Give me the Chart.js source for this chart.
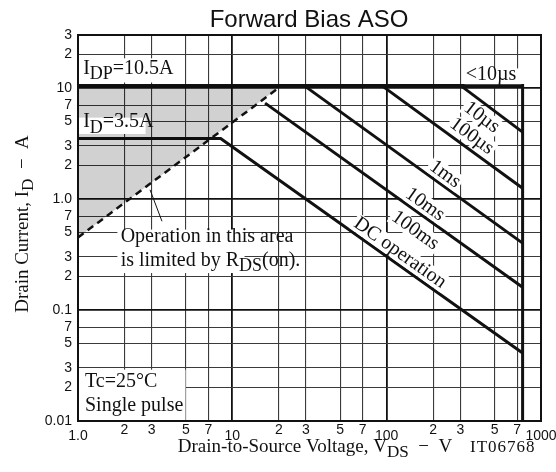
<!DOCTYPE html>
<html>
<head>
<meta charset="utf-8">
<script src="https://cdn.jsdelivr.net/npm/chart.js@4"></script>
<style>
  html, body { margin: 0; padding: 0; background: #fff; }
  #wrap { width: 556px; height: 472px; }
</style>
</head>
<body>
<div id="wrap"><canvas id="aso"></canvas></div>
<script>
// tick values and labels
const xTicks = [1, 2, 3, 5, 7, 10, 20, 30, 50, 70, 100, 200, 300, 500, 700, 1000];
const xTickLabels = ['1.0', '2', '3', '5', '7', '10', '2', '3', '5', '7', '100', '2', '3', '5', '7', '1000'];
const yTicks = [0.01, 0.02, 0.03, 0.05, 0.07, 0.1, 0.2, 0.3, 0.5, 0.7, 1, 2, 3, 5, 7, 10, 20, 30];
const yTickLabels = ['0.01', '2', '3', '5', '7', '0.1', '2', '3', '5', '7', '1.0', '2', '3', '5', '7', '10', '2', '3'];

// curves: VDS (V) / ID (A)
const limitV = [1, 760, 760];
const limitI = [10.5, 10.5, 0.01];
const dcV = [1, 8.4, 760];
const dcI = [3.5, 3.5, 0.041];
const rdsV = [1, 20.9];
const rdsI = [0.45, 10.5];
const t10usV = [302, 760];
const t10usI = [10.5, 4.0];
const t100usV = [93, 760];
const t100usI = [10.5, 1.25];
const t1msV = [29.2, 760];
const t1msI = [10.5, 0.40];
const t10msV = [16.3, 760];
const t10msI = [7.3, 0.16];
const leaderV = [2.93, 3.5];
const leaderI = [1.21, 0.63];

const SERIF = '"Liberation Serif", "Times New Roman", serif';
const SANS = '"Liberation Sans", Arial, sans-serif';
const decades = [0.01, 0.1, 1, 10, 100, 1000];

const pts = (vs, is) => vs.map((v, i) => ({ x: v, y: is[i] }));

function curve(vs, is, width, extra) {
    return Object.assign({
        data: pts(vs, is),
        borderColor: '#111',
        borderWidth: width,
        pointRadius: 0,
        fill: false,
        tension: 0
    }, extra || {});
}

// labels along the pulse lines (at = VDS of label centre, dy = px above line)
const lineLabels = [
    { text: '10µs', vs: t10usV, is: t10usI, at: 413, dy: -16 },
    { text: '100µs', vs: t100usV, is: t100usI, at: 356, dy: 15 },
    { text: '1ms', vs: t1msV, is: t1msI, at: 239, dy: 13 },
    { text: '10ms', vs: t10msV, is: t10msI, at: 177, dy: 13 },
    { text: '100ms', vs: t10msV, is: t10msI, at: 153, dy: -20 },
    { text: 'DC operation', vs: dcV.slice(1), is: dcI.slice(1), at: 122, dy: 13 }
];

function drawRich(ctx, parts, x, y, size, align) {
    let w = 0;
    const sub = size * 0.9;
    parts.forEach(p => {
        ctx.font = (p[1] ? sub : size) + 'px ' + SERIF;
        w += ctx.measureText(p[0]).width;
    });
    let cx = align === 'center' ? x - w / 2 : x;
    ctx.textAlign = 'left';
    ctx.textBaseline = 'alphabetic';
    parts.forEach(p => {
        ctx.font = (p[1] ? sub : size) + 'px ' + SERIF;
        ctx.fillText(p[0], cx, p[1] ? y + size * 0.28 : y);
        cx += ctx.measureText(p[0]).width;
    });
    return w;
}

const decor = {
    id: 'decor',
    afterDatasetsDraw(chart) {
        const { ctx, chartArea: a, scales: { x, y } } = chart;
        const px = v => x.getPixelForValue(v);
        const py = v => y.getPixelForValue(v);
        ctx.save();
        ctx.fillStyle = '#fff';
        // white boxes behind annotations
        ctx.fillRect(a.left + 1, py(18.5), px(3.2) - a.left, py(11.2) - py(18.5));
        ctx.fillRect(a.left + 1, py(5.4), px(2.7) - a.left, py(3.85) - py(5.4));
        ctx.fillRect(px(320), py(15), px(745) - px(320), py(10.8) - py(15));
        ctx.fillRect(px(1.8), py(0.53), px(12) - px(1.8), py(0.215) - py(0.53));
        ctx.fillRect(a.left + 1, py(0.029), px(4.9) - a.left, a.bottom - py(0.029) - 1);

        ctx.fillStyle = '#111';
        drawRich(ctx, [['I'], ['DP', 1], ['=10.5A']], px(1.08), py(13.4), 20);
        drawRich(ctx, [['I'], ['D', 1], ['=3.5A']], px(1.08), py(4.43), 20);
        drawRich(ctx, [['<10µs']], px(325), py(11.9), 20);
        drawRich(ctx, [['Operation in this area']], px(1.89), py(0.412), 20);
        drawRich(ctx, [['is limited by R'], ['DS', 1], ['(on).']], px(1.89), py(0.25), 20);
        drawRich(ctx, [['Tc=25°C']], px(1.11), py(0.0201), 20);
        drawRich(ctx, [['Single pulse']], px(1.11), py(0.0124), 20);

        // rotated labels along the lines
        lineLabels.forEach(l => {
            const x0 = px(l.vs[0]), y0 = py(l.is[0]);
            const x1 = px(l.vs[1]), y1 = py(l.is[1]);
            const cx = px(l.at);
            const cy = y0 + (cx - x0) * (y1 - y0) / (x1 - x0) - l.dy;
            ctx.save();
            ctx.translate(cx, cy);
            ctx.rotate(Math.atan2(y1 - y0, x1 - x0));
            ctx.font = '20px ' + SERIF;
            const w = ctx.measureText(l.text).width;
            ctx.fillStyle = '#fff';
            ctx.fillRect(-w / 2 - 2, -9, w + 4, 18);
            ctx.fillStyle = '#111';
            ctx.textAlign = 'center';
            ctx.textBaseline = 'middle';
            ctx.fillText(l.text, 0, 0);
            ctx.restore();
        });
        ctx.restore();
    },
    afterDraw(chart) {
        const { ctx, chartArea: a, scales: { x } } = chart;
        ctx.save();
        // plot frame
        ctx.strokeStyle = '#111';
        ctx.lineWidth = 2;
        ctx.strokeRect(a.left, a.top, a.right - a.left, a.bottom - a.top);

        // x tick labels (decade labels sit a little lower)
        ctx.fillStyle = '#111';
        ctx.font = '14px ' + SANS;
        ctx.textAlign = 'center';
        ctx.textBaseline = 'middle';
        xTicks.forEach((v, i) => {
            const low = decades.includes(v);
            ctx.fillText(xTickLabels[i], x.getPixelForValue(v), a.bottom + (low ? 15 : 9));
        });

        // title
        ctx.font = '24px ' + SANS;
        ctx.textBaseline = 'alphabetic';
        ctx.fillText('Forward Bias ASO', 309, 27);

        // axis titles
        drawRich(ctx, [['Drain-to-Source Voltage, V'], ['DS', 1], ['  −  V']], 315, 452, 19, 'center');
        ctx.font = '17px ' + SERIF;
        ctx.textAlign = 'left';
        ctx.letterSpacing = '1px';
        ctx.fillText('IT06768', 470, 452);
        ctx.letterSpacing = '0px';

        ctx.translate(28, 224);
        ctx.rotate(-Math.PI / 2);
        drawRich(ctx, [['Drain Current, I'], ['D', 1], ['  −  A']], 0, 0, 19, 'center');
        ctx.restore();
    }
};

const gridColor = c => decades.includes(c.tick && c.tick.value) ? '#111' : '#3a3a3a';
const gridWidth = c => decades.includes(c.tick && c.tick.value) ? 1.8 : 1.1;

new Chart(document.getElementById('aso'), {
    type: 'line',
    data: {
        datasets: [
            curve(rdsV, rdsI, 2.5, { borderDash: [7, 5], fill: { value: 10.5 }, backgroundColor: 'rgba(0,0,0,0.18)' }),
            curve(limitV, limitI, 3),
            curve(dcV, dcI, 3),
            curve(t10usV, t10usI, 3),
            curve(t100usV, t100usI, 3),
            curve(t1msV, t1msI, 3),
            curve(t10msV, t10msI, 3),
            curve(leaderV, leaderI, 1)
        ]
    },
    options: {
        responsive: true,
        maintainAspectRatio: false,
        animation: false,
        layout: { padding: { top: 35, right: 15, left: 0, bottom: 0 } },
        plugins: { legend: { display: false }, tooltip: { enabled: false } },
        scales: {
            x: {
                type: 'logarithmic',
                min: 1,
                max: 1000,
                afterBuildTicks: s => { s.ticks = xTicks.map(v => ({ value: v })); },
                afterFit: s => { s.height = 51; },
                ticks: { display: false, autoSkip: false },
                grid: { color: gridColor, lineWidth: gridWidth, drawTicks: false },
                border: { display: false }
            },
            y: {
                type: 'logarithmic',
                min: 0.01,
                max: 30,
                afterBuildTicks: s => { s.ticks = yTicks.map(v => ({ value: v })); },
                afterFit: s => { s.width = 78; },
                ticks: {
                    autoSkip: false,
                    padding: 6,
                    color: '#111',
                    font: { family: SANS, size: 14 },
                    callback: (v, i) => yTickLabels[i]
                },
                grid: { color: gridColor, lineWidth: gridWidth, drawTicks: false },
                border: { display: false }
            }
        }
    },
    plugins: [decor]
});
</script>
</body>
</html>
